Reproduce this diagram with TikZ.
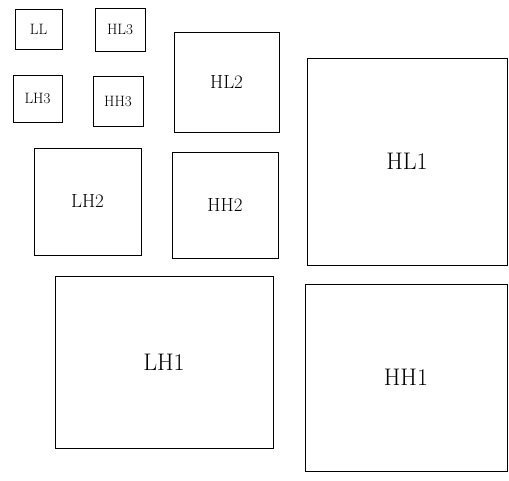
\documentclass[tikz,border=0pt]{standalone}
\usetikzlibrary{positioning}

\begin{document}
\begin{tikzpicture}[
			x=1pt,y=-1pt,
			every node/.style={
				draw,
				rectangle,
				line width=0.9pt,
				inner sep=0pt,
				anchor=center
			},
			lvlthree/.style={font=\fontsize{15}{17}\selectfont},
			lvltwo/.style={font=\fontsize{19}{21}\selectfont},
			lvlone/.style={font=\fontsize{24}{26}\selectfont}
			]
			\useasboundingbox (0,0) rectangle (509,481);
			
			% Level 3 subbands
			\node[lvlthree, minimum width=47, minimum height=40] (ll) at (38.5,29) {LL};
			\node[lvlthree, minimum width=50, minimum height=43] (hl3) at (120,29.5) {HL3};
			\node[lvlthree, minimum width=49, minimum height=47] (lh3) at (37.5,98.5) {LH3};
			\node[lvlthree, minimum width=50, minimum height=50] (hh3) at (118,101) {HH3};
			
			% Level 2 subbands
			\node[lvltwo, minimum width=105, minimum height=100] (hl2) at (226.5,82) {HL2};
			\node[lvltwo, minimum width=107, minimum height=107] (lh2) at (87.5,201.5) {LH2};
			\node[lvltwo, minimum width=106, minimum height=106] (hh2) at (225,205) {HH2};
			
			% Level 1 subbands
			\node[lvlone, minimum width=200, minimum height=207] (hl1) at (407,161.5) {HL1};
			\node[lvlone, minimum width=218, minimum height=172] (lh1) at (164,362) {LH1};
			\node[lvlone, minimum width=202, minimum height=187] (hh1) at (406,377.5) {HH1};
			
		\end{tikzpicture}
\end{document}
